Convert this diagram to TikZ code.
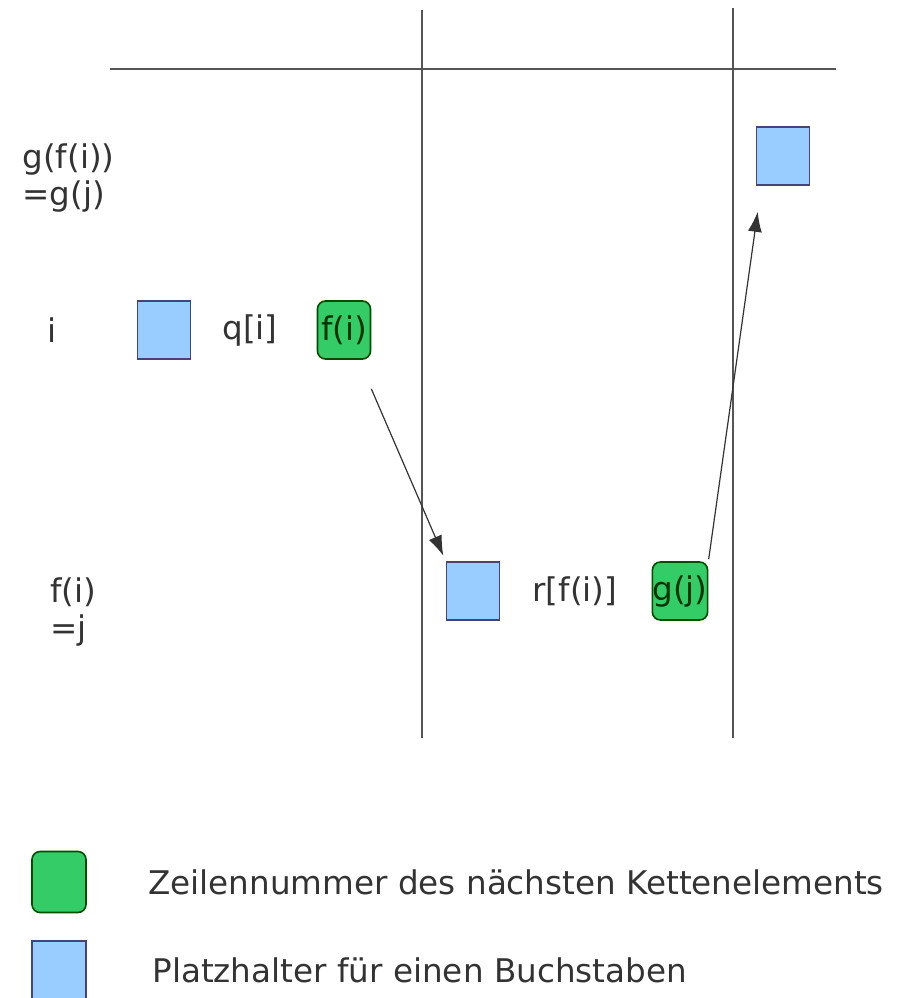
\documentclass[tikz,border=0pt]{standalone}
\usepackage{fontspec}
\setmainfont{DejaVu Sans}
\usepackage{tikz}
\usetikzlibrary{positioning, arrows.meta}
\usepackage{xcolor}

\definecolor{platzblau}{HTML}{99CCFF}
\definecolor{kettengruen}{HTML}{33CC66}
\definecolor{linie}{HTML}{555555}
\definecolor{schrift}{HTML}{333333}

\begin{document}
\begin{tikzpicture}[
    x=0.5pt, y=-0.5pt,
    txt/.style={text=schrift, font=\fontsize{16.3}{18.5}\selectfont, inner sep=0pt, align=left},
    platz/.style={draw=linie!80!blue, fill=platzblau, line width=0.8pt, minimum width=26.5pt, minimum height=29pt, inner sep=0pt},
    kette/.style={draw=black!70!green, fill=kettengruen, line width=0.8pt, rounded corners=4pt, minimum width=26.5pt, minimum height=29pt, inner sep=0pt, font=\fontsize{16.3}{18.5}\selectfont, text=black!80!green},
    achse/.style={draw=linie, line width=1pt},
    arr/.style={-{Latex[length=10pt, width=7pt]}, draw=black!80, line width=0.6pt}
]
    \useasboundingbox (0,0) rectangle (908,998);

    % Tabellenlinien
    \draw[achse] (110,69) -- (836,69);
    \draw[achse] (422,10) -- (422,738);
    \draw[achse] (733,8) -- (733,738);

    % Zeilenbeschriftung
    \node[txt, anchor=west] (gfi) at (22,178) {g(f(i))\\=g(j)};
    \node[txt] (i) at (52,330) {i};
    \node[txt, anchor=west] (fij) at (50,612) {f(i)\\=j};

    % Zeile i
    \node[platz] (qi) at (164,330) {};
    \node[txt] (qlab) at (250,330) {q[i]};
    \node[kette] (fi) at (344,330) {f(i)};

    % Zeile j
    \node[platz] (rj) at (473,591) {};
    \node[txt] (rlab) at (575,591) {r[f(i)]};
    \node[kette] (gj) at (680,591) {g(j)};

    % Zeile g(j)
    \node[platz] (sg) at (783,156) {};

    \coordinate (fiab) at ([yshift=-14.5pt]fi.south east);
    \coordinate (sgan) at ([xshift=1pt, yshift=-13pt]sg.south west);
    \draw[arr, shorten >=3pt] (fiab) -- (rj.north west);
    \draw[arr, shorten <=1pt] (gj.north east) -- (sgan);

    % Legende
    \node[kette, minimum height=30.5pt, minimum width=27pt] (legk) at (59,882) {};
    \node[txt, anchor=west] (legktxt) at (148,882) {Zeilennummer des nächsten Kettenelements};
    \node[platz, minimum width=27pt] (legp) at (59,970) {};
    \node[txt, anchor=west] (legptxt) at (152,970) {Platzhalter für einen Buchstaben};
\end{tikzpicture}
\end{document}
